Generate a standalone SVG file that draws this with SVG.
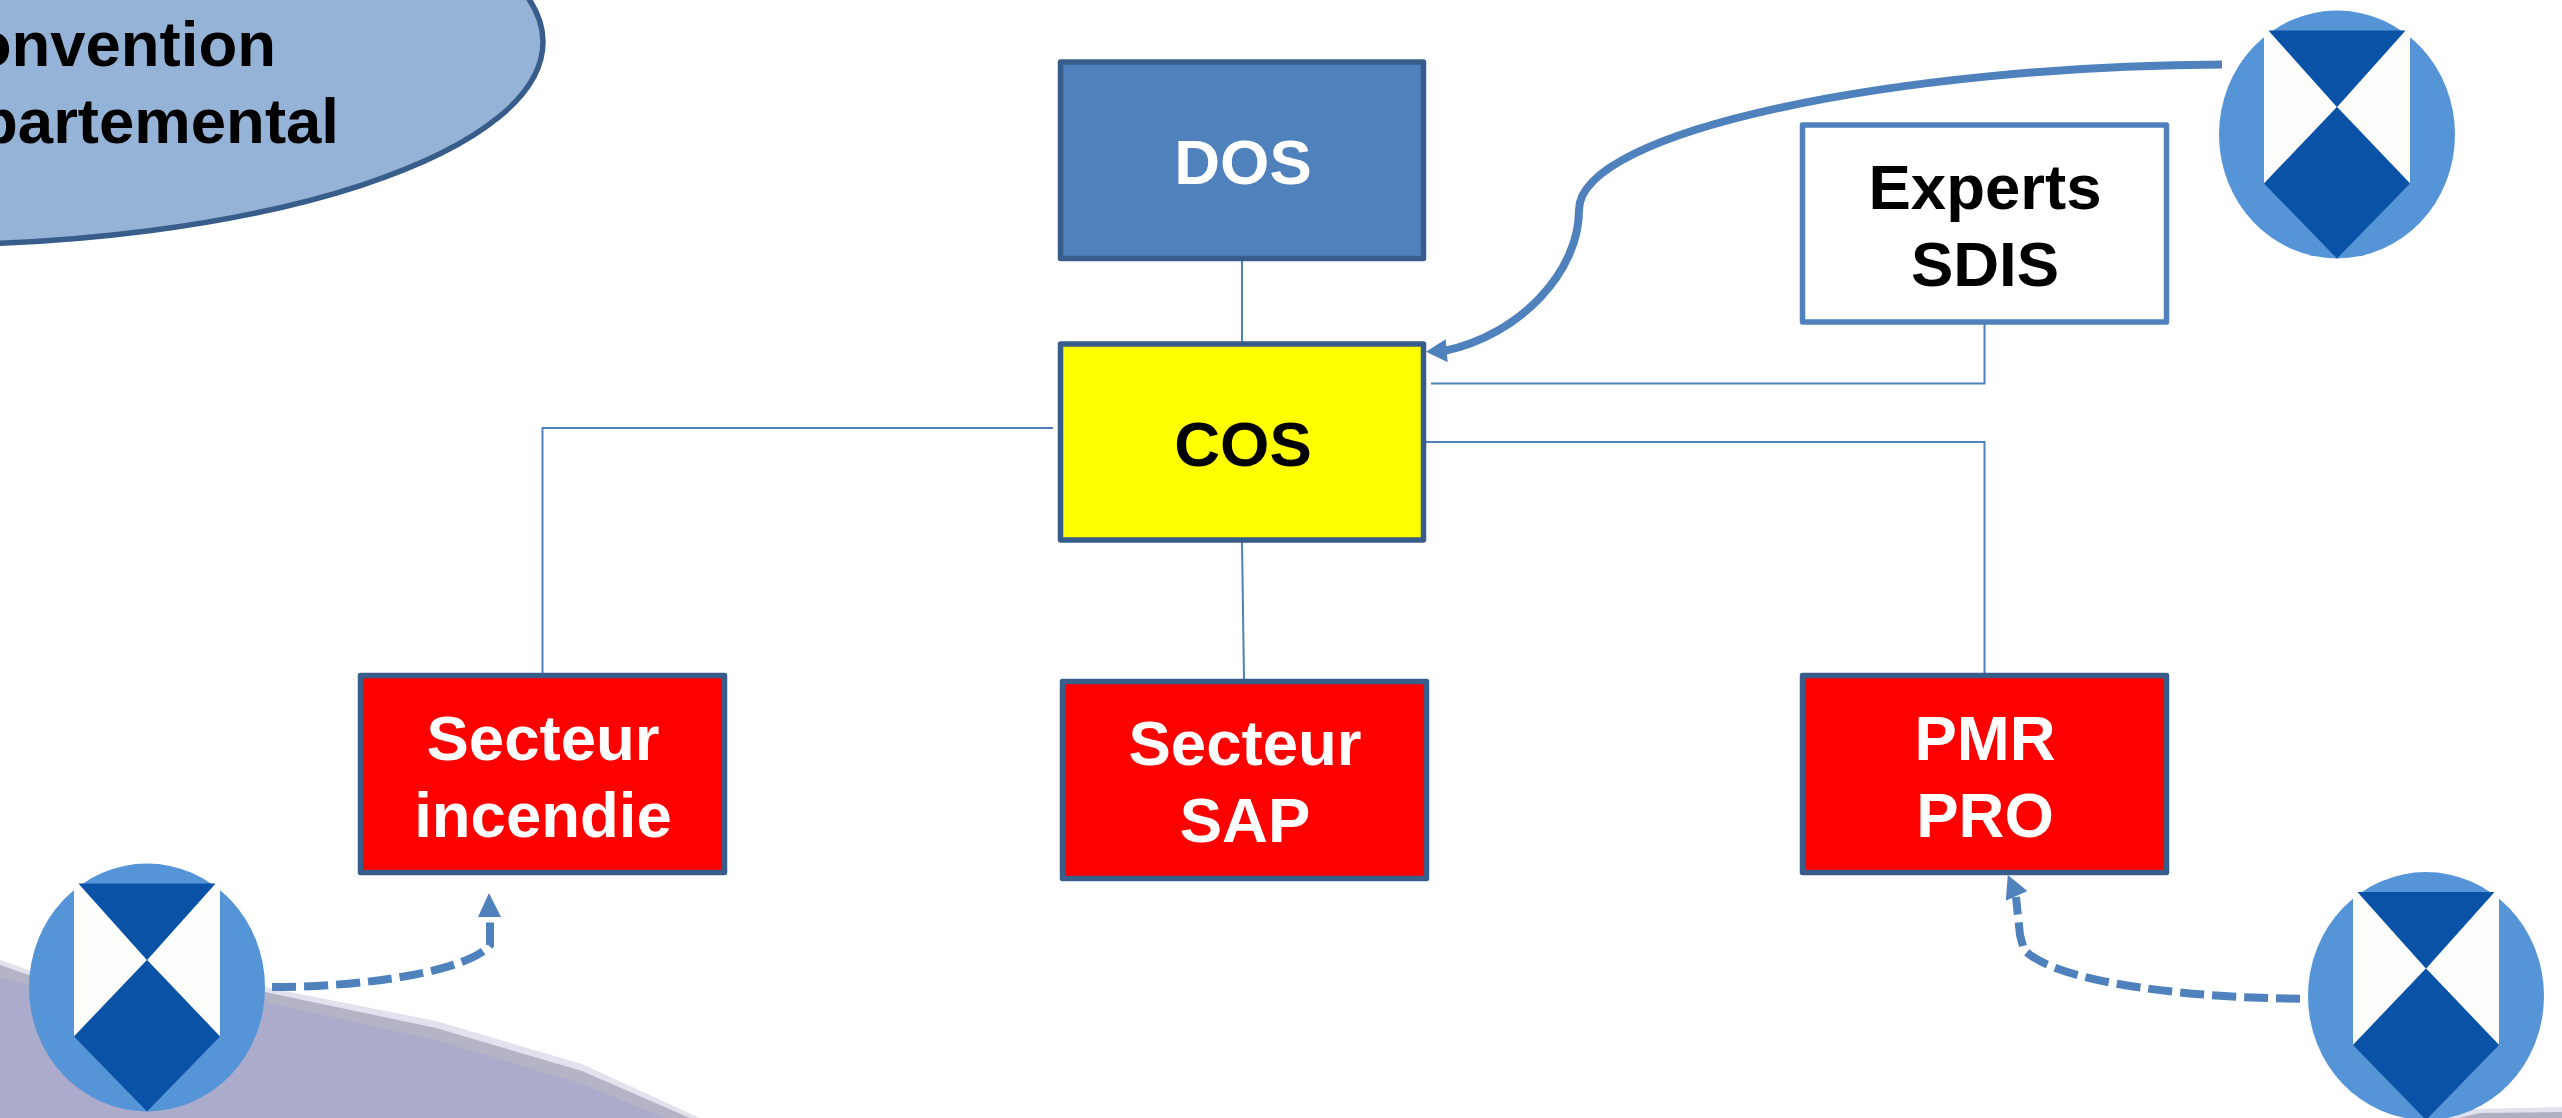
<svg xmlns="http://www.w3.org/2000/svg" width="2562" height="1118" viewBox="0 0 2562 1118">
<style>
text{font-family:"Liberation Sans",Arial,sans-serif;font-weight:700;font-size:63.500px;text-anchor:middle}
.box{stroke:#385D8A;stroke-width:5.500;stroke-linejoin:round}
.red{fill:#FF0000}
.w{fill:#FFFFFF}
.k{fill:#000000}
.thin{fill:none;stroke:#4F81BD;stroke-width:2}
.thick{fill:none;stroke:#4F81BD;stroke-width:8}
.dash{stroke-dasharray:24 8}
.head{fill:#4F81BD}
</style>
<defs>
<g id="shield">
<ellipse rx="118" ry="124" fill="#5694D8"/>
<path d="M-73,-98L-68.500,-104L0,-27.500L-73,49ZM73,-98L68.500,-104L0,-27.500L73,49Z" fill="#FDFDFB"/>
<path d="M-68.500,-104L68.500,-104L0,-27.500Z" fill="#0A52A5"/>
<path d="M0,-27.500L73,49L0,124L-73,49Z" fill="#0A52A5"/>
</g>
</defs>
<rect width="2562" height="1118" fill="#FFFFFF"/>
<g id="backdrop">
<path d="M0,960L29,970L265,987L436,1021L582,1064L700,1118L0,1118Z" fill="#E2E2EE"/>
<path d="M0,965L29,975L265,992L436,1028L582,1071L690,1118L0,1118Z" fill="#B4B4C6"/>
<path d="M0,978L29,985L265,1002L436,1040L582,1084L665,1118L0,1118Z" fill="#ABABCB"/>
<path d="M2440,1118L2470,1109L2562,1107L2562,1118Z" fill="#E2E2EE"/>
<path d="M2458,1118L2480,1113L2562,1112L2562,1118Z" fill="#B0B0C4"/>
</g>
<g id="connectors">
<path class="thin" d="M1242,261V342"/>
<path class="thin" d="M1242,542L1244,680"/>
<path class="thin" d="M1053,428H542.500V673"/>
<path class="thin" d="M1984.500,324V383.500H1431"/>
<path class="thin" d="M1426,442H1984.500V673"/>
<path class="thick" d="M2222,64.500C1900,66 1579,130 1579,210C1579,272 1520,335 1444,351"/>
<polygon class="head" points="1426,351.700 1445.600,339.300 1447.700,362.300"/>
<path class="thick dash" d="M272,987C370,987 470,970 490,945L490,920"/>
<polygon class="head" points="489,893 501,917 478,917"/>
<path class="thick dash" d="M2300,998.700C2200,998 2060,985 2024,950L2020,935L2016,897"/>
<polygon class="head" points="2007.800,875 2005.800,900.700 2027.300,891"/>
</g>
<g id="convention">
<ellipse cx="-80" cy="42" rx="623" ry="203" fill="#95B3D7" class="box"/>
<text x="276" y="66" style="text-anchor:end" class="k">onvention</text>
<text x="339" y="143" style="text-anchor:end" class="k">partemental</text>
</g>
<g id="dos">
<rect x="1060.500" y="62" width="363" height="196.500" fill="#4F81BD" class="box"/>
<text x="1243" y="184" class="w">DOS</text>
</g>
<g id="cos">
<rect x="1060.500" y="344" width="363" height="196" fill="#FFFF00" class="box"/>
<text x="1243" y="466" class="k">COS</text>
</g>
<g id="experts">
<rect x="1802.500" y="125" width="364" height="197" fill="#FFFFFF" stroke="#4F81BD" stroke-width="5.500" stroke-linejoin="round"/>
<text x="1985" y="209" class="k">Experts</text>
<text x="1985" y="286" class="k">SDIS</text>
</g>
<g id="secteur-incendie">
<rect x="360.500" y="675.500" width="364" height="197" class="box red"/>
<text x="543" y="760" class="w">Secteur</text>
<text x="543" y="837" class="w">incendie</text>
</g>
<g id="secteur-sap">
<rect x="1062.500" y="681.500" width="364" height="197" class="box red"/>
<text x="1245" y="765" class="w">Secteur</text>
<text x="1245" y="842" class="w">SAP</text>
</g>
<g id="pmr-pro">
<rect x="1802.500" y="675.500" width="364" height="197" class="box red"/>
<text x="1985" y="760" class="w">PMR</text>
<text x="1985" y="837" class="w">PRO</text>
</g>
<use id="shield-top" href="#shield" x="2337" y="134.500"/>
<use id="shield-left" href="#shield" x="147" y="987.500"/>
<use id="shield-right" href="#shield" x="2426" y="996"/>
</svg>
